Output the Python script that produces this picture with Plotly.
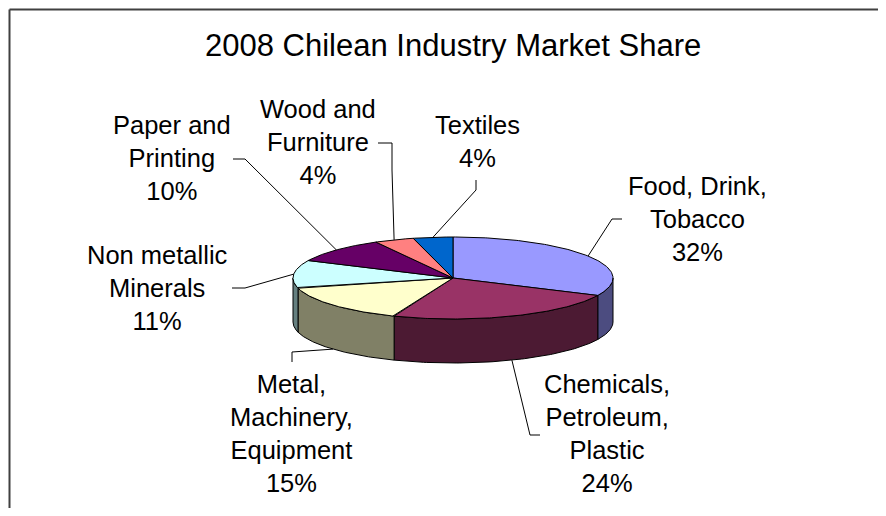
import numpy as np
import plotly.graph_objects as go

# ---- data ----
categories = ["Food, Drink,<br>Tobacco", "Chemicals,<br>Petroleum,<br>Plastic",
              "Metal,<br>Machinery,<br>Equipment", "Non metallic<br>Minerals",
              "Paper and<br>Printing", "Wood and<br>Furniture", "Textiles"]
values = [32, 24, 15, 11, 10, 4, 4]
top_colors = ["#9999FF", "#993366", "#FFFFCC", "#CCFFFF", "#660066", "#FF8080", "#0066CC"]
side_colors = ["#4C4C80", "#4C1A33", "#808066", "#668080", "#330033", "#804040", "#003366"]

# label block centres (px) and leader elbow points (px)
label_pos = [(697, 219), (607, 433), (291, 433), (157, 288), (172, 158), (318, 142), (477, 141)]
elbows = [
    [(622, 219), (612, 219)],
    [(540, 435), (530, 435)],
    [(292, 362), (292, 352)],
    [(232, 288), (245, 288)],
    [(233, 159), (245, 159)],
    [(378, 143), (392, 143), (392, 170)],
    [(476, 180), (476, 190)],
]

# ---- geometry (pixels of the 886x516 page) ----
PAGE_W, PAGE_H = 886, 516
OFF = 8  # page body margin compensation
W, H = PAGE_W - 2 * OFF, PAGE_H - 2 * OFF  # figure fits inside the page without overflow
cx, cy, rx, ry, depth = 453, 278, 160, 41, 44

def pt(theta_deg, dy=0.0):
    t = np.radians(theta_deg)
    return cx + rx * np.sin(t), cy - ry * np.cos(t) + dy

total = sum(values)
bounds = np.concatenate([[0], np.cumsum(values)]) / total * 360.0

fig = go.Figure()

# side faces (front half: 90..270 deg)
for i in range(len(values)):
    a0, a1 = max(bounds[i], 90), min(bounds[i + 1], 270)
    if a1 <= a0:
        continue
    th = np.linspace(a0, a1, 80)
    xs_t, ys_t = pt(th)
    xs_b, ys_b = pt(th[::-1], depth)
    xs = np.concatenate([xs_t, xs_b, [xs_t[0]]])
    ys = np.concatenate([ys_t, ys_b, [ys_t[0]]])
    fig.add_trace(go.Scatter(x=xs, y=ys, mode="lines", fill="toself",
                             fillcolor=side_colors[i], line=dict(color="black", width=1),
                             hoverinfo="skip", showlegend=False))

# top faces
for i in range(len(values)):
    th = np.linspace(bounds[i], bounds[i + 1], 120)
    xs_a, ys_a = pt(th)
    xs = np.concatenate([[cx], xs_a, [cx]])
    ys = np.concatenate([[cy], ys_a, [cy]])
    fig.add_trace(go.Scatter(x=xs, y=ys, mode="lines", fill="toself",
                             fillcolor=top_colors[i], line=dict(color="black", width=1),
                             hoverinfo="skip", showlegend=False))

# leader lines + labels
font = dict(family="Arial, Liberation Sans, sans-serif", size=25.5, color="black")
for i in range(len(values)):
    mid = (bounds[i] + bounds[i + 1]) / 2
    front = 90 < mid < 270
    ax_, ay_ = pt(mid, depth if front else 0)
    lx = [p[0] for p in elbows[i]] + [ax_]
    ly = [p[1] for p in elbows[i]] + [ay_]
    fig.add_trace(go.Scatter(x=lx, y=ly, mode="lines", line=dict(color="black", width=1),
                             hoverinfo="skip", showlegend=False))
    fig.add_annotation(x=label_pos[i][0], y=label_pos[i][1], text=f"{categories[i]}<br>{values[i]}%",
                       showarrow=False, xanchor="center", yanchor="middle", font=font, align="center")

# title
fig.add_annotation(x=453, y=45, text="2008 Chilean Industry Market Share", showarrow=False,
                   xanchor="center", yanchor="middle",
                   font=dict(family="Arial, Liberation Sans, sans-serif", size=31, color="black"))

# chart border (top and left visible)
fig.add_shape(type="line", x0=9.5, y0=9.5, x1=PAGE_W + 20, y1=9.5, line=dict(color="#404040", width=2))
fig.add_shape(type="line", x0=9.5, y0=9.5, x1=9.5, y1=PAGE_H + 20, line=dict(color="#404040", width=2))

fig.update_layout(width=W, height=H, margin=dict(l=0, r=0, t=0, b=0),
                  paper_bgcolor="white", plot_bgcolor="white",
                  xaxis=dict(range=[OFF, W + OFF], visible=False, fixedrange=True),
                  yaxis=dict(range=[H + OFF, OFF], visible=False, fixedrange=True),
                  showlegend=False)

fig.write_html("out.html")
